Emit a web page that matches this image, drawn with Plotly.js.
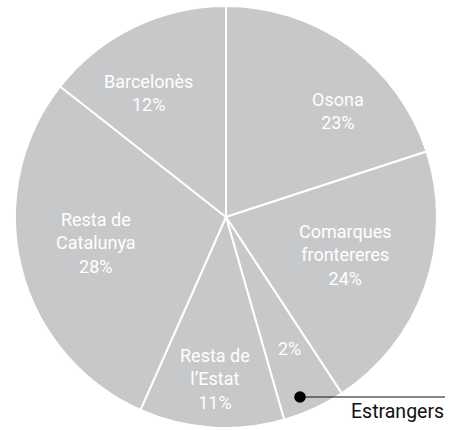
<!DOCTYPE html>
<html>
<head>
<meta charset="utf-8">
<script src="https://cdn.plot.ly/plotly-3.0.1.min.js"></script>
<style>html,body{margin:0;padding:0;background:#fff;}#chart{width:452px;height:430px;}</style>
</head>
<body>
<div id="chart"></div>
<script>
// Data
var categories = ['Osona', 'Comarques frontereres', 'Estrangers', 'Resta de l’Estat', 'Resta de Catalunya', 'Barcelonès'];
var sliceValues = [20.0, 20.8, 4.8, 11.1, 29.0, 14.4];   // slice sizes as drawn
var percentLabels = ['23%', '24%', '2%', '11%', '28%', '12%'];
var labelLines = ['Osona', 'Comarques<br>frontereres', '', 'Resta de<br>l’Estat', 'Resta de<br>Catalunya', 'Barcelonès'];

// Layout helpers (pixel -> paper)
var W = 452, H = 430, M = {l: 0, r: 0, t: 6, b: 2};
function px(x) { return (x - M.l) / (W - M.l - M.r); }
function py(y) { return 1 - (y - M.t) / (H - M.t - M.b); }

var labelPos = [[338, 111], [345, 255], [289, 348], [215, 379], [96, 243], [148, 93]];
var font = 'Roboto, "Liberation Sans", sans-serif';

var annotations = categories.map(function (c, i) {
  var t = labelLines[i] ? labelLines[i] + '<br>' + percentLabels[i] : percentLabels[i];
  return {
    xref: 'paper', yref: 'paper', x: px(labelPos[i][0]), y: py(labelPos[i][1]),
    xanchor: 'center', yanchor: 'middle', showarrow: false, align: 'center',
    text: t, font: {family: font, size: 18, color: '#ffffff'}
  };
});
annotations.push({
  xref: 'paper', yref: 'paper', x: px(446), y: py(411), xanchor: 'right', yanchor: 'middle',
  showarrow: false, text: categories[2], font: {family: font, size: 19.5, color: '#111111'}
});

var trace = {
  type: 'pie',
  labels: categories,
  values: sliceValues,
  sort: false,
  direction: 'clockwise',
  rotation: 0,
  textinfo: 'none',
  hoverinfo: 'label+value',
  marker: {colors: categories.map(function () { return '#c7c8c9'; }), line: {color: '#ffffff', width: 2}},
  showlegend: false
};

var layout = {
  width: W, height: H,
  margin: M,
  paper_bgcolor: '#ffffff',
  showlegend: false,
  annotations: annotations,
  shapes: [
    {type: 'line', xref: 'paper', yref: 'paper', x0: px(300), x1: px(445), y0: py(397), y1: py(397), line: {color: '#111111', width: 1.2}},
    {type: 'circle', xref: 'paper', yref: 'paper', x0: px(294.2), x1: px(305.8), y0: py(391.2), y1: py(402.8), fillcolor: '#000000', line: {color: '#000000', width: 0}}
  ]
};

Plotly.newPlot('chart', [trace], layout, {displayModeBar: false, staticPlot: true});
</script>
</body>
</html>
